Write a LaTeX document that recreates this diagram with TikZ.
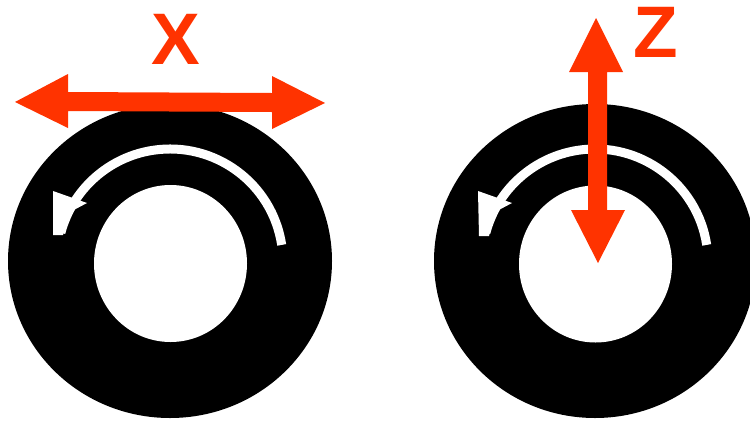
\documentclass[tikz,border=0pt]{standalone}
\usepackage{fontspec}
\setmainfont{Liberation Sans}
\definecolor{axisred}{RGB}{255,51,0}
\tikzset{
  tire/.style={fill=black},
  hub/.style={fill=white},
  spin/.style={draw=white, line width=9pt, line cap=butt},
  spinhead/.style={fill=white},
  axisarrow/.style={fill=axisred},
  axislabel/.style={text=axisred, font=\bfseries\fontsize{73}{73}\selectfont, inner sep=0pt, anchor=base}
}
\begin{document}
\begin{tikzpicture}[x=1pt,y=-1pt]
\useasboundingbox (0,0) rectangle (750,421);
\fill[white] (0,0) rectangle (750,421);
% left tire
\fill[tire] (170,261) ellipse [x radius=162, y radius=157];
\fill[hub] (170.5,263.5) ellipse [x radius=76.5, y radius=78.5];
\draw[spin] (281.7,244.9) arc[start angle=-8.7, end angle=-165, radius=113];
\fill[spinhead] (53,191) -- (87,203) -- (70,212) -- (63,235) -- (53,235) -- cycle;
% right tire
\fill[tire] (595,261) ellipse [x radius=161, y radius=157];
\fill[hub] (595.5,264) ellipse [x radius=76.5, y radius=78.5];
\draw[spin] (706.7,244.9) arc[start angle=-8.7, end angle=-165, radius=113];
\fill[spinhead] (478,191) -- (512,203) -- (495,212) -- (489,236) -- (479,236) -- cycle;
% X arrow
\fill[axisarrow] (15,102) -- (68,74) -- (68,92) -- (272,93) -- (272,76) -- (325,103)
  -- (272,129) -- (272,112) -- (68,111) -- (68,128) -- cycle;
% Z arrow
\fill[axisarrow] (596,18) -- (623,72) -- (607,72) -- (607,210) -- (625,210) -- (598,263)
  -- (571,210) -- (588,210) -- (588,72) -- (569,72) -- cycle;
% labels
\node[axislabel] (xlab) at (176,64) {X};
\node[axislabel] (zlab) at (656,57) {Z};
\end{tikzpicture}
\end{document}
